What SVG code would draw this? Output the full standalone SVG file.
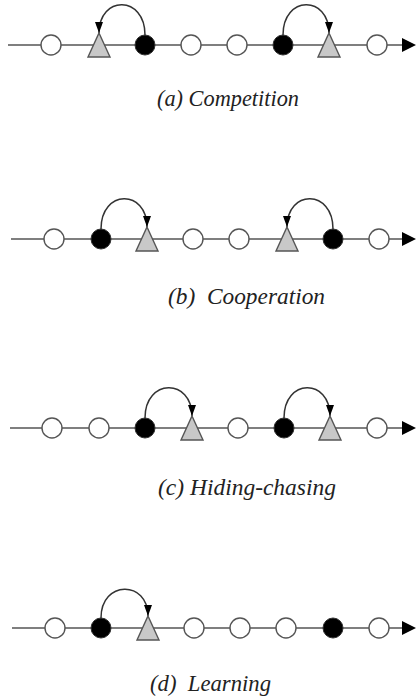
<svg xmlns="http://www.w3.org/2000/svg" width="416" height="699" viewBox="0 0 416 699">
<defs>
<style>
.ln{stroke:#555;stroke-width:1.5;fill:none}
.arc{stroke:#333;stroke-width:1.5;fill:none;marker-end:url(#ahd)}
.wc{fill:#fff;stroke:#555;stroke-width:1.4}
.bc{fill:#000;stroke:#333;stroke-width:1}
.tr{fill:#c8c8c8;stroke:#555;stroke-width:1.4}
.end{fill:#000}
.cap{font-family:"Liberation Serif","Times New Roman",serif;font-style:italic;font-size:23px;fill:#222}
</style>
<marker id="ahd" viewBox="0 0 11 8" refX="11" refY="4" markerWidth="11" markerHeight="8" orient="auto" markerUnits="userSpaceOnUse">
<path d="M0,0 L11,4 L0,8 Z" fill="#000"/>
</marker>
</defs>
<g id="connectors">
<line class="ln" x1="8" y1="45" x2="403" y2="45"/>
<polygon class="end" points="402,38 416,45 402,52"/>
<path class="arc" d="M145,35 C145,-5 99,-5 99,33"/>
<path class="arc" d="M283,35 C283,-5 329,-5 329,33"/>
<line class="ln" x1="11" y1="239" x2="403" y2="239"/>
<polygon class="end" points="402,232 416,239 402,246"/>
<path class="arc" d="M101,229 C101,189 147,189 147,227"/>
<path class="arc" d="M333,229 C333,189 287,189 287,227"/>
<line class="ln" x1="10" y1="428" x2="403" y2="428"/>
<polygon class="end" points="402,421 416,428 402,435"/>
<path class="arc" d="M145,418 C145,378 192,378 192,416"/>
<path class="arc" d="M284,418 C284,378 330,378 330,416"/>
<line class="ln" x1="12" y1="628" x2="403" y2="628"/>
<polygon class="end" points="402,621 416,628 402,635"/>
<path class="arc" d="M101,618 C101,580 148,580 148,616"/>
</g>
<g id="a1"><circle class="wc" cx="51" cy="45" r="10"/></g>
<g id="a2"><polygon class="tr" points="99,33 110,57 88,57"/></g>
<g id="a3"><circle class="bc" cx="145" cy="45" r="10"/></g>
<g id="a4"><circle class="wc" cx="191" cy="45" r="10"/></g>
<g id="a5"><circle class="wc" cx="237" cy="45" r="10"/></g>
<g id="a6"><circle class="bc" cx="283" cy="45" r="10"/></g>
<g id="a7"><polygon class="tr" points="329,33 340,57 318,57"/></g>
<g id="a8"><circle class="wc" cx="377" cy="45" r="10"/></g>
<g id="b1"><circle class="wc" cx="54" cy="239" r="10"/></g>
<g id="b2"><circle class="bc" cx="101" cy="239" r="10"/></g>
<g id="b3"><polygon class="tr" points="147,227 158,251 136,251"/></g>
<g id="b4"><circle class="wc" cx="193" cy="239" r="10"/></g>
<g id="b5"><circle class="wc" cx="239" cy="239" r="10"/></g>
<g id="b6"><polygon class="tr" points="287,227 298,251 276,251"/></g>
<g id="b7"><circle class="bc" cx="333" cy="239" r="10"/></g>
<g id="b8"><circle class="wc" cx="379" cy="239" r="10"/></g>
<g id="c1"><circle class="wc" cx="52" cy="428" r="10"/></g>
<g id="c2"><circle class="wc" cx="99" cy="428" r="10"/></g>
<g id="c3"><circle class="bc" cx="145" cy="428" r="10"/></g>
<g id="c4"><polygon class="tr" points="192,416 203,440 181,440"/></g>
<g id="c5"><circle class="wc" cx="238" cy="428" r="10"/></g>
<g id="c6"><circle class="bc" cx="284" cy="428" r="10"/></g>
<g id="c7"><polygon class="tr" points="330,416 341,440 319,440"/></g>
<g id="c8"><circle class="wc" cx="377" cy="428" r="10"/></g>
<g id="d1"><circle class="wc" cx="55" cy="628" r="10"/></g>
<g id="d2"><circle class="bc" cx="101" cy="628" r="10"/></g>
<g id="d3"><polygon class="tr" points="148,616 159,640 137,640"/></g>
<g id="d4"><circle class="wc" cx="194" cy="628" r="10"/></g>
<g id="d5"><circle class="wc" cx="240" cy="628" r="10"/></g>
<g id="d6"><circle class="wc" cx="286" cy="628" r="10"/></g>
<g id="d7"><circle class="bc" cx="333" cy="628" r="10"/></g>
<g id="d8"><circle class="wc" cx="379" cy="628" r="10"/></g>
<text class="cap" x="157" y="106" textLength="142" lengthAdjust="spacingAndGlyphs">(a) Competition</text>
<text class="cap" x="168" y="304" textLength="157" lengthAdjust="spacingAndGlyphs" xml:space="preserve">(b)  Cooperation</text>
<text class="cap" x="158" y="495" textLength="178" lengthAdjust="spacingAndGlyphs">(c) Hiding-chasing</text>
<text class="cap" x="150" y="691" textLength="121" lengthAdjust="spacingAndGlyphs" xml:space="preserve">(d)  Learning</text>
</svg>
